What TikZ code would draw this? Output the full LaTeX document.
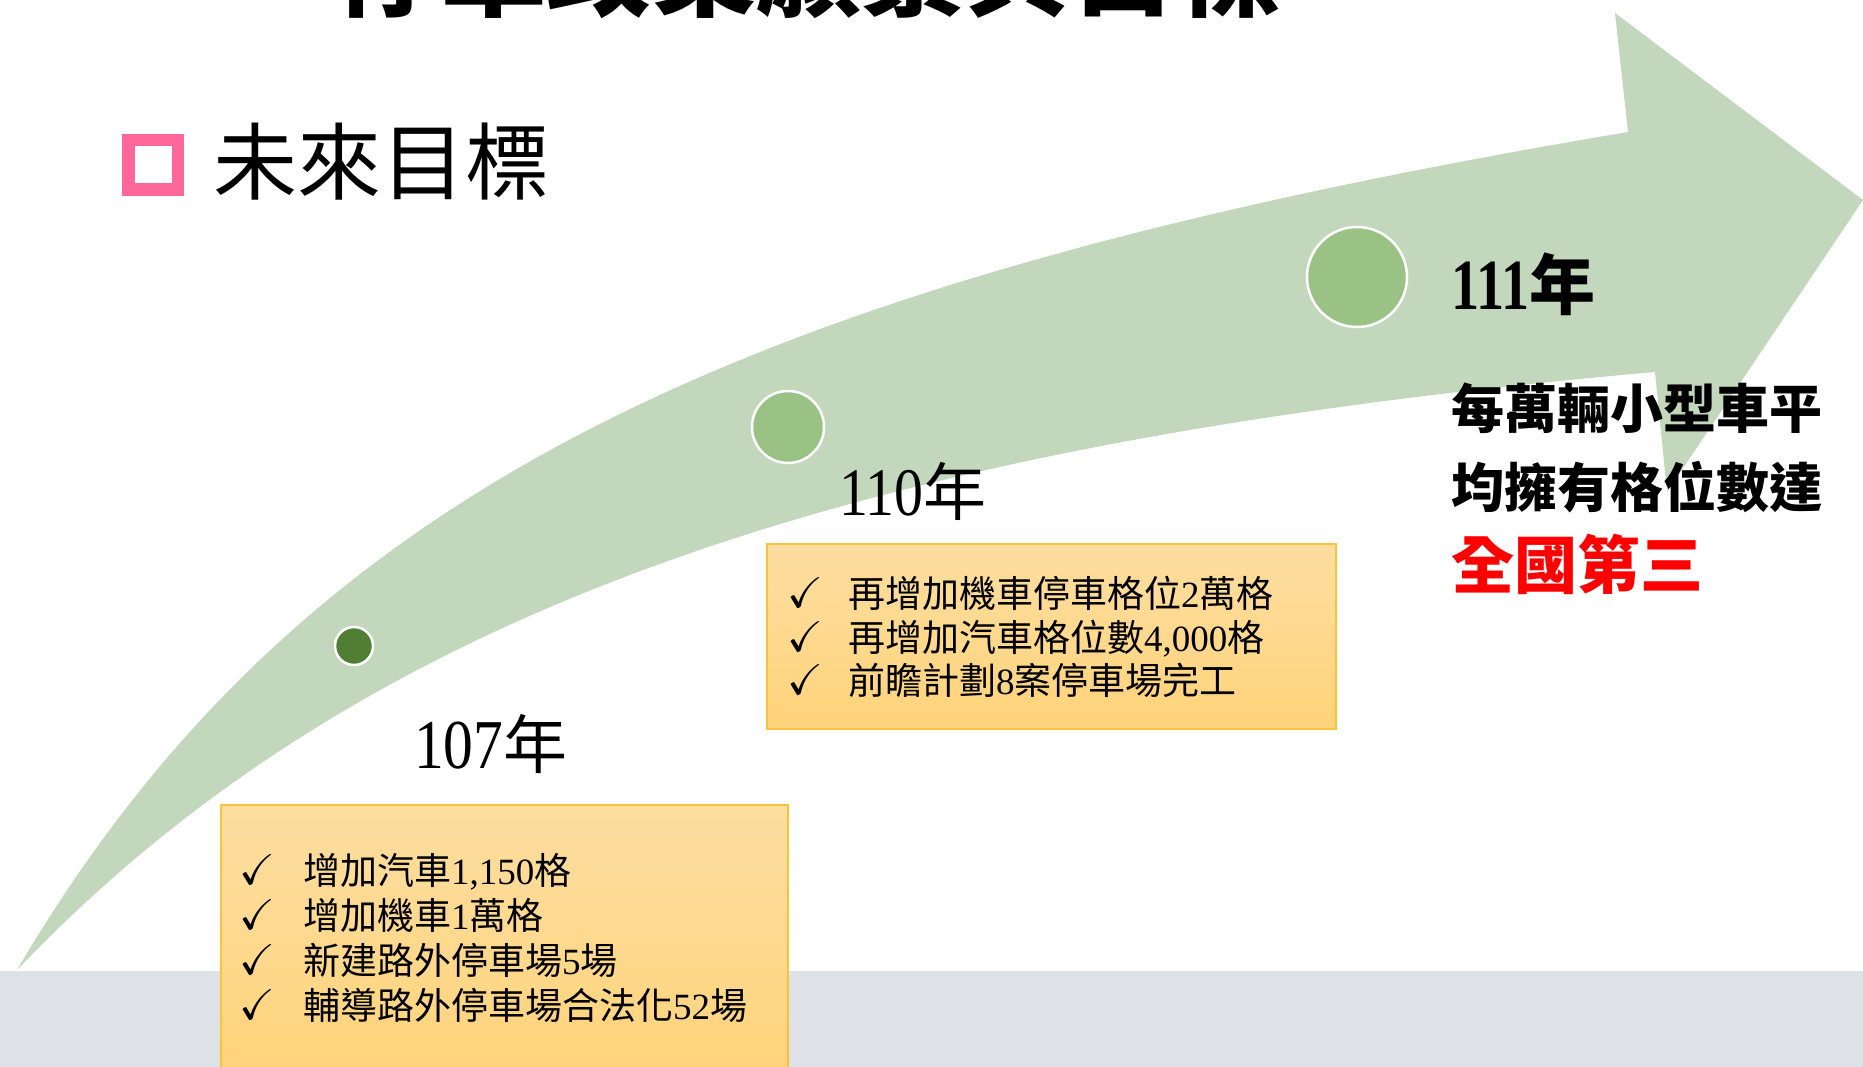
\documentclass[tikz,border=0pt]{standalone}
\usepackage{amssymb}
\usepackage{fontspec}
\newfontfamily\cjk{Noto Sans CJK TC}
\newfontfamily\tnr{Liberation Serif}
\newfontfamily\tnrc[FakeStretch=0.85]{Liberation Serif}
\newfontfamily\tnrbc[FakeStretch=0.78]{Liberation Serif}
\definecolor{arrowgreen}{RGB}{195,215,188}
\definecolor{dotgreen}{RGB}{154,194,133}
\definecolor{darkdot}{RGB}{80,126,50}
\definecolor{bandgray}{RGB}{222,225,230}
\definecolor{boxtop}{RGB}{253,222,161}
\definecolor{boxbot}{RGB}{255,211,122}
\definecolor{boxline}{RGB}{248,196,60}
\definecolor{bulletpink}{RGB}{255,102,153}
\newcommand{\nm}[1]{{\tnr #1}}
\newcommand{\tick}{$\checkmark$}
\tikzset{
  goalbox/.style={draw=boxline, line width=2pt, top color=boxtop, bottom color=boxbot},
  item/.style={anchor=base west, inner sep=0pt, font=\cjk\fontsize{37}{37}\selectfont},
  chk/.style={anchor=base west, inner sep=0pt, font=\fontsize{43}{43}\selectfont},
  dot/.style={circle, draw=white, line width=2.5pt, inner sep=0pt},
  yearlabel/.style={anchor=base west, inner sep=0pt},
  sidetext/.style={anchor=base west, inner sep=0pt, font=\cjk\bfseries\fontsize{53}{53}\selectfont}
}
\begin{document}
\begin{tikzpicture}[x=1pt,y=-1pt]
\useasboundingbox (0,0) rectangle (1863,1067);
\clip (0,0) rectangle (1863,1067);
\fill[white] (0,0) rectangle (1863,1067);
% bottom band
\fill[bandgray] (0,971) rectangle (1863,1067);
% big arrow
\fill[arrowgreen] (17,970)
  .. controls (301,487) and (741,281) .. (1628,132)
  -- (1615,13) -- (1863,200) -- (1667,492) -- (1655,372)
  .. controls (858,442) and (362,608) .. (17,970)
  -- cycle;
% milestone dots
\node[dot, fill=darkdot, minimum size=38pt] (d107) at (354,646) {};
\node[dot, fill=dotgreen, minimum size=72pt] (d110) at (788,427) {};
\node[dot, fill=dotgreen, minimum size=100pt] (d111) at (1357,277) {};
% title (cut off at top)
\node[anchor=base west, inner sep=0pt, font=\cjk\bfseries\fontsize{105}{105}\selectfont] (title) at (336,9) {停車政策願景與目標};
% bullet and heading
\draw[bulletpink, line width=12.5pt] (128.25,140.25) rectangle (177.75,189.75);
\node[anchor=base west, inner sep=0pt, font=\cjk\fontsize{84}{84}\selectfont] (heading) at (213,194) {未來目標};
% year labels
\node[yearlabel] (y107) at (414,768) {{\tnrc\fontsize{70}{70}\selectfont 107}{\cjk\fontsize{64}{64}\selectfont 年}};
\node[yearlabel] (y110) at (839,515) {{\tnrc\fontsize{68}{68}\selectfont 110}{\cjk\fontsize{63}{63}\selectfont 年}};
\node[yearlabel] (y111) at (1451,309) {{\tnrbc\bfseries\fontsize{72}{72}\selectfont 111}{\cjk\bfseries\fontsize{66}{66}\selectfont 年}};
% box 107
\draw[goalbox] (221,805) rectangle (788,1080);
\node[chk] (c1a) at (239,884) {\tick};
\node[chk] (c1b) at (239,929) {\tick};
\node[chk] (c1c) at (239,974) {\tick};
\node[chk] (c1d) at (239,1019) {\tick};
\node[item] (t1a) at (303,884) {增加汽車\nm{1,150}格};
\node[item] (t1b) at (303,929) {增加機車\nm{1}萬格};
\node[item] (t1c) at (303,974) {新建路外停車場\nm{5}場};
\node[item] (t1d) at (303,1019) {輔導路外停車場合法化\nm{52}場};
% box 110
\draw[goalbox] (767,544) rectangle (1336,729);
\node[chk] (c2a) at (787,607) {\tick};
\node[chk] (c2b) at (787,651) {\tick};
\node[chk] (c2c) at (787,694) {\tick};
\node[item] (t2a) at (848,607) {再增加機車停車格位\nm{2}萬格};
\node[item] (t2b) at (848,651) {再增加汽車格位數\nm{4,000}格};
\node[item] (t2c) at (848,694) {前瞻計劃\nm{8}案停車場完工};
% 111 text
\node[sidetext] (s1) at (1451,428) {每萬輛小型車平};
\node[sidetext] (s2) at (1451,507) {均擁有格位數達};
\node[anchor=base west, inner sep=0pt, text=red, font=\cjk\bfseries\fontsize{63}{63}\selectfont] (s3) at (1451,588) {全國第三};
\end{tikzpicture}
\end{document}
